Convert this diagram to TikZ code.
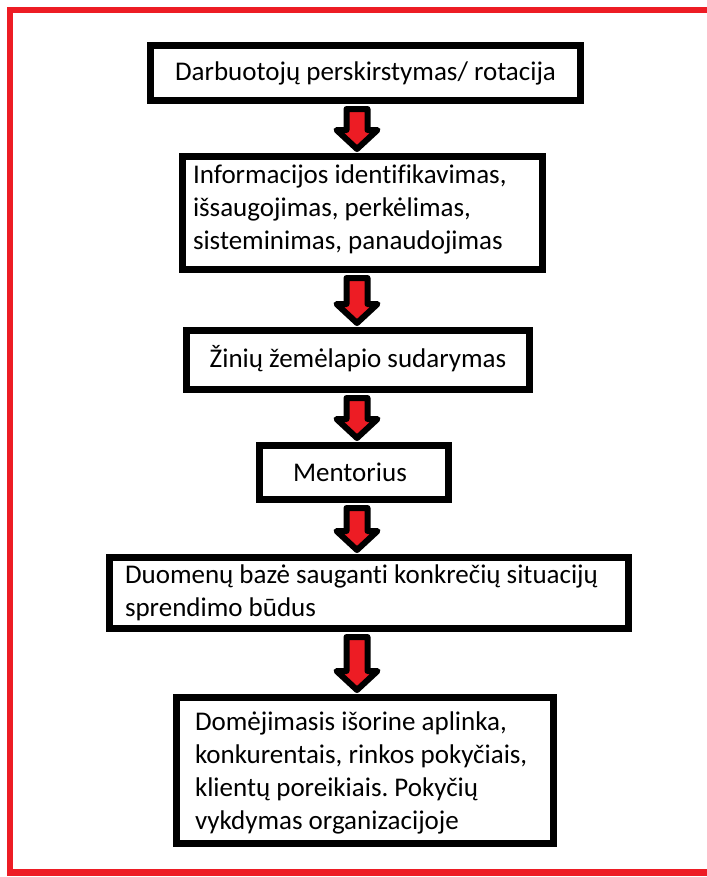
\documentclass[tikz,border=0pt]{standalone}
\usepackage{fontspec}
\setmainfont[Ligatures=NoCommon]{Carlito}
\frenchspacing
\usetikzlibrary{calc}
\definecolor{framered}{HTML}{ED1C24}
\definecolor{arrowred}{HTML}{ED1C24}
\tikzset{
  box/.style={draw=black, line width=7bp, fill=white, inner sep=0pt, outer sep=0pt,
    anchor=north west, font=\fontsize{27bp}{33bp}\selectfont},
  barrow/.style={draw=black, line width=6bp, line join=round, fill=arrowred},
  frameline/.style={draw=framered, line width=6.5bp},
}
\newcommand\blockarr[2]{%
  \draw[barrow] ($(#1.south -| ax)+(-10.5,8.5)$) -- ($(#2.north -| ax)+(-10.5,-26.5)$)
    -- ($(#2.north -| ax)+(-20.5,-26.5)$) -- ($(#2.north -| ax)+(0,-7.5)$)
    -- ($(#2.north -| ax)+(20.5,-26.5)$) -- ($(#2.north -| ax)+(10.5,-26.5)$)
    -- ($(#1.south -| ax)+(10.5,8.5)$) -- cycle;}
\begin{document}
\begin{tikzpicture}[x=1bp,y=-1bp]
\useasboundingbox (0,0) rectangle (707,877);
\fill[white] (0,0) rectangle (707,877);
% red frame
\draw[frameline] (720,10) -- (10,10) -- (10,872.5) -- (720,872.5);
\coordinate (ax) at (357,0);
% boxes
\node[box] (b1) at (150.5,45.5) {\parbox[c][55bp][t]{430bp}{\frenchspacing\centering\rule{0pt}{34.5bp}Darbuotojų perskirstymas/ rotacija}};
\node[box] (b2) at (182.5,156.5) {\parbox[c][113bp][t]{360bp}{\frenchspacing\raggedright\leftskip=10.5bp\rule{0pt}{26.5bp}Informacijos identifikavimas,\\išsaugojimas, perkėlimas,\\sisteminimas, panaudojimas}};
\node[box] (b3) at (186.5,330.5) {\parbox[c][59bp][t]{343bp}{\frenchspacing\centering\rule{0pt}{36.5bp}Žinių žemėlapio sudarymas}};
\node[box] (b4) at (259.5,445.5) {\parbox[c][54bp][t]{189bp}{\frenchspacing\raggedright\leftskip=33.5bp\rule{0pt}{35.5bp}Mentorius}};
\node[box] (b5) at (109.5,557.5) {\parbox[c][71bp][t]{519bp}{\frenchspacing\raggedright\leftskip=15.5bp\rule{0pt}{25.5bp}Duomenų bazė sauganti konkrečių situacijų\\sprendimo būdus}};
\node[box] (b6) at (176.5,697.5) {\parbox[c][146bp][t]{377bp}{\frenchspacing\raggedright\leftskip=18.5bp\rule{0pt}{32.5bp}Domėjimasis išorine aplinka,\\konkurentais, rinkos pokyčiais,\\klientų poreikiais. Pokyčių\\vykdymas organizacijoje}};
% arrows
\blockarr{b1}{b2}
\blockarr{b2}{b3}
\blockarr{b3}{b4}
\blockarr{b4}{b5}
\blockarr{b5}{b6}
\end{tikzpicture}
\end{document}
